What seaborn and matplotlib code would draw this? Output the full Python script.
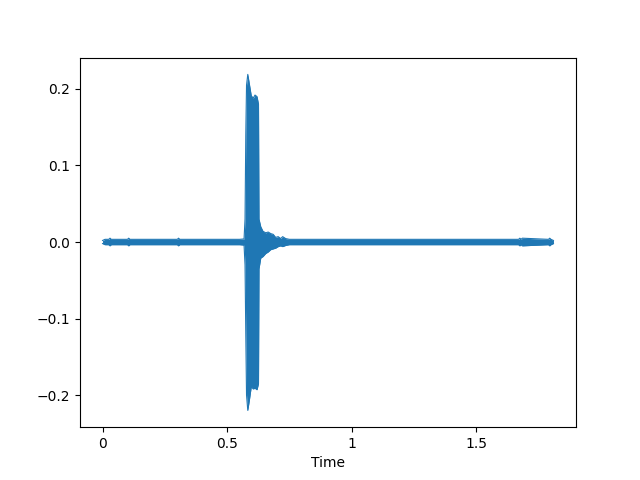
"""
Waveform envelope (waveshow-style) recreated with seaborn + matplotlib
"""
import numpy as np
import pandas as pd
import matplotlib
matplotlib.use('Agg')
import matplotlib.pyplot as plt
import seaborn as sns

# Envelope keypoints (time in s, amplitude)
times = [0.0, 0.01, 0.025, 0.03, 0.035, 0.10, 0.105, 0.11, 0.30, 0.305, 0.31,
         0.55, 0.568, 0.572, 0.575, 0.578, 0.583, 0.590, 0.597, 0.605,
         0.612, 0.620, 0.626, 0.628, 0.635, 0.644, 0.655, 0.665, 0.675, 0.685,
         0.695, 0.705, 0.715, 0.723, 0.735, 0.75, 1.67, 1.675, 1.68, 1.685,
         1.79, 1.795, 1.80, 1.81]
upper = [0.002, 0.0035, 0.0035, 0.005, 0.0035, 0.0035, 0.005, 0.0035, 0.0035, 0.005, 0.0035,
         0.0035, 0.004, 0.030, 0.140, 0.205, 0.219, 0.205, 0.191, 0.188,
         0.192, 0.190, 0.180, 0.030, 0.020, 0.014, 0.012, 0.013, 0.011, 0.010,
         0.006, 0.007, 0.0045, 0.007, 0.0045, 0.0035, 0.0035, 0.005, 0.0035, 0.005,
         0.0035, 0.005, 0.0035, 0.002]
lower = [-0.002, -0.0035, -0.0035, -0.005, -0.0035, -0.0035, -0.005, -0.0035, -0.0035, -0.005, -0.0035,
         -0.0035, -0.004, -0.030, -0.120, -0.200, -0.220, -0.205, -0.189, -0.192,
         -0.191, -0.193, -0.185, -0.035, -0.021, -0.019, -0.015, -0.013, -0.010, -0.009,
         -0.008, -0.006, -0.005, -0.006, -0.0045, -0.0035, -0.0035, -0.005, -0.0035, -0.005,
         -0.0035, -0.005, -0.0035, -0.002]

env = pd.DataFrame({'time': times, 'upper': upper, 'lower': lower})

color = '#1f77b4'
fig, ax = plt.subplots(figsize=(6.4, 4.8), dpi=100)

sns.lineplot(data=env, x='time', y='upper', ax=ax, color=color, linewidth=0.8)
sns.lineplot(data=env, x='time', y='lower', ax=ax, color=color, linewidth=0.8)
ax.fill_between(env['time'], env['lower'], env['upper'], color=color, linewidth=0)

ax.margins(x=0.05, y=0.05)
ax.set_xticks([0, 0.5, 1, 1.5])
ax.set_xticklabels(['0', '0.5', '1', '1.5'])
ax.set_yticks([-0.2, -0.1, 0.0, 0.1, 0.2])
ax.set_xlabel('Time')
ax.set_ylabel('')

plt.savefig('out.png', dpi=100)
plt.close()
